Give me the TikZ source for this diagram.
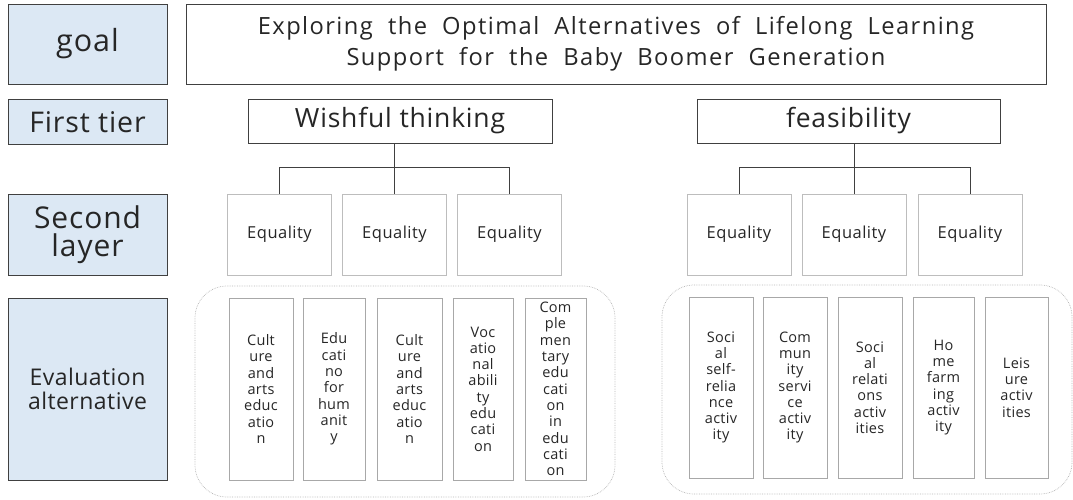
\documentclass[tikz,border=0pt]{standalone}
\usepackage{fontspec}
\setmainfont{Open Sans}
\newfontfamily\titlefont[LetterSpace=6,WordSpace=2]{Open Sans}
\usetikzlibrary{calc}
\definecolor{labelfill}{HTML}{DCE8F4}
\definecolor{darkline}{HTML}{404040}
\definecolor{softline}{HTML}{BDBDBD}
\definecolor{midline}{HTML}{A8A8A8}
\definecolor{groupline}{HTML}{B4B4B4}
\definecolor{ink}{HTML}{262626}
\newcommand{\spaced}[1]{\addfontfeatures{LetterSpace=#1}}
\begin{document}
\begin{tikzpicture}[x=1pt,y=-1pt,
  every node/.style={text=ink, inner sep=0pt, align=center},
  lbl/.style={draw=darkline, line width=0.9pt, fill=labelfill, minimum width=159},
  topbox/.style={draw=darkline, line width=0.9pt},
  eqbox/.style={draw=softline, line width=0.9pt, minimum width=104, minimum height=81,
    font=\fontsize{16.5}{18}\selectfont\spaced{3}},
  altbox/.style={draw=midline, line width=0.9pt, minimum height=182,
    font=\fontsize{14.5}{16.3}\selectfont\spaced{2}},
  group/.style={draw=groupline, densely dotted, line width=0.7pt, rounded corners=32pt},
  tree/.style={draw=darkline, line width=0.9pt}
]
\useasboundingbox (0,0) rectangle (1073,500);

% row labels
\node[lbl, minimum height=80, font=\fontsize{30.5}{30}\selectfont\spaced{3}] (goal) at (87.5,44) {goal};
\node[lbl, minimum height=45, font=\fontsize{28.5}{30}\selectfont\spaced{3}] (tier) at (87.5,122) {First tier};
\node[lbl, minimum height=81, font=\fontsize{30}{28}\selectfont\spaced{3}] (second) at (87.5,234.5) {Second\\layer};
\node[lbl, minimum height=182, font=\fontsize{23}{24}\selectfont\spaced{2}] (eval) at (87.5,389) {Evaluation\\alternative};

% goal and first tier
\node[topbox, minimum width=860, minimum height=80,
  font=\titlefont\fontsize{23.7}{31}\selectfont] (title) at (616,44)
  {Exploring the Optimal Alternatives of Lifelong Learning\\Support for the Baby Boomer Generation};
\node[topbox, minimum width=304, minimum height=44, font=\fontsize{26.5}{28}\selectfont\spaced{3}] (wish) at (400,121) {Wishful thinking};
\node[topbox, minimum width=303, minimum height=44, font=\fontsize{26.5}{28}\selectfont\spaced{3}] (feas) at (848.5,121) {feasibility};

% second layer
\node[eqbox] (wa) at (279.5,234.5) {Equality};
\node[eqbox] (wb) at (394.5,234.5) {Equality};
\node[eqbox] (wc) at (509.5,234.5) {Equality};
\node[eqbox] (fa) at (739,234.5) {Equality};
\node[eqbox] (fb) at (854,234.5) {Equality};
\node[eqbox] (fc) at (970,234.5) {Equality};

% tree connectors
\coordinate (wbar) at (0,167);
\draw[tree] (wish.south -| wb.north) -- (wb.north);
\draw[tree] (wa.north) -- (wa.north |- wbar) -- (wc.north |- wbar) -- (wc.north);
\draw[tree] (feas.south -| fb.north) -- (fb.north);
\draw[tree] (fa.north) -- (fa.north |- wbar) -- (fc.north |- wbar) -- (fc.north);

% evaluation alternatives
\node[group, minimum width=420, minimum height=211] (lgroup) at (405,391.5) {};
\node[group, minimum width=410, minimum height=209] (rgroup) at (867,389.5) {};

\node[altbox, minimum width=64] (l1) at (261,389) {Cult\\ure\\and\\arts\\educ\\atio\\n};
\node[altbox, minimum width=62] (l2) at (334,389) {Edu\\cati\\no\\for\\hum\\anit\\y};
\node[altbox, minimum width=65] (l3) at (409.5,389) {Cult\\ure\\and\\arts\\educ\\atio\\n};
\node[altbox, minimum width=60] (l4) at (483,389) {Voc\\atio\\nal\\abili\\ty\\edu\\cati\\on};
\node[altbox, minimum width=61] (l5) at (555.5,389) {Com\\ple\\men\\tary\\edu\\cati\\on\\in\\edu\\cati\\on};

\node[altbox, minimum width=64, minimum height=181] (r1) at (721,387.5) {Soci\\al\\self-\\relia\\nce\\activ\\ity};
\node[altbox, minimum width=64, minimum height=181] (r2) at (795,387.5) {Com\\mun\\ity\\servi\\ce\\activ\\ity};
\node[altbox, minimum width=64, minimum height=181] (r3) at (870,387.5) {Soci\\al\\relati\\ons\\activ\\ities};
\node[altbox, minimum width=61, minimum height=181] (r4) at (943.5,387.5) {Ho\\me\\farm\\ing\\activ\\ity};
\node[altbox, minimum width=63, minimum height=181] (r5) at (1016.5,387.5) {Leis\\ure\\activ\\ities};
\end{tikzpicture}
\end{document}
